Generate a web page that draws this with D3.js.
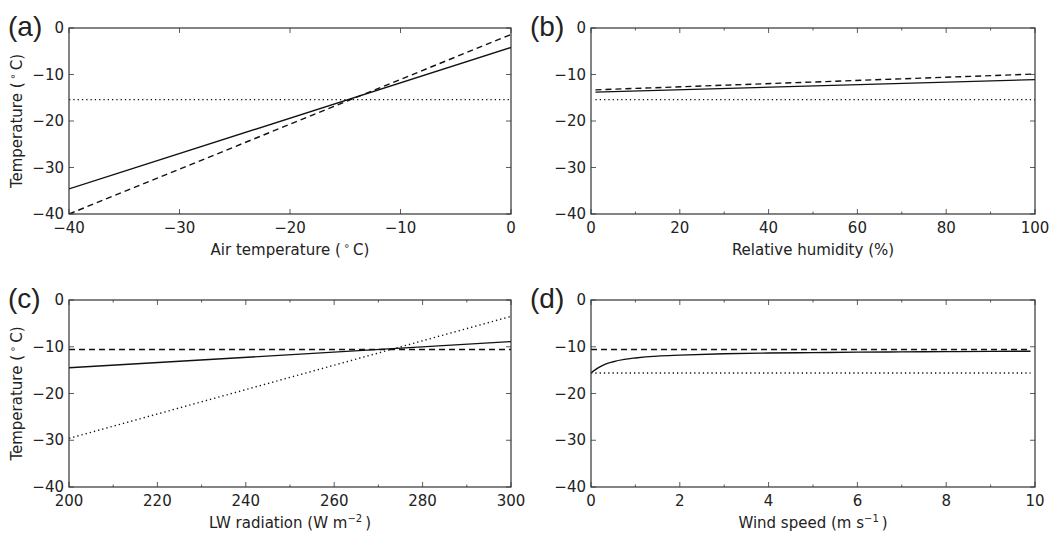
<!DOCTYPE html>
<html>
<head>
<meta charset="utf-8">
<script src="https://cdn.jsdelivr.net/npm/d3@7"></script>
<style>
  body { margin: 0; background: #fff; }
  svg { display: block; }
  text { fill: #222; }
</style>
</head>
<body>
<script>
// panel (a): air temperature
const airTemp = [-40, 0];
const aSolid = [-34.6, -4.2];
const aDashed = [-40, -1.4];
const aDotted = [-15.4, -15.4];
// panel (b): relative humidity
const humidity = [1, 100];
const bSolid = [-13.8, -11.1];
const bDashed = [-13.3, -9.9];
const bDotted = [-15.4, -15.4];
// panel (c): LW radiation
const lwRad = [200, 300];
const cSolid = [-14.5, -8.9];
const cDashed = [-10.6, -10.6];
const cDotted = [-29.6, -3.5];
// panel (d): wind speed
const wind = [0, 0.1, 0.2, 0.3, 0.5, 0.75, 1, 1.5, 2, 3, 4, 5, 6, 7, 8, 9, 9.9];
const dSolid = [-15.6, -14.9, -14.3, -13.8, -13.2, -12.7, -12.4, -12.0, -11.8, -11.5, -11.35, -11.25, -11.15, -11.1, -11.05, -11.0, -10.95];
const dDashedX = [0, 9.9];
const dDashed = [-10.6, -10.6];
const dDottedX = [0, 9.9];
const dDotted = [-15.6, -15.6];

const yTicks = [0, -10, -20, -30, -40];

const W = 1057, H = 536;
const svg = d3.select('body').append('svg').attr('width', W).attr('height', H);

function drawPanel(opts) {
    const {left, top, width, height, xDomain, xMajor, xMinor, label, xLabel, yLabel, series} = opts;
    const x = d3.scaleLinear().domain(xDomain).range([0, width]);
    const y = d3.scaleLinear().domain([-40, 0]).range([height, 0]);
    const g = svg.append('g').attr('transform', `translate(${left},${top})`);

    const clipId = 'clip-' + label;
    g.append('clipPath').attr('id', clipId)
        .append('rect').attr('width', width).attr('height', height);

    const lines = g.append('g').attr('clip-path', `url(#${clipId})`);
    series.forEach(s => {
        const pts = s.x.map((v, i) => [v, s.y[i]]);
        const line = d3.line().x(d => x(d[0])).y(d => y(d[1]));
        if (s.smooth) line.curve(d3.curveMonotoneX);
        lines.append('path')
            .datum(pts)
            .attr('d', line)
            .attr('fill', 'none')
            .attr('stroke', '#111')
            .attr('stroke-width', 1.4)
            .attr('stroke-dasharray', s.dash === 'dash' ? '6 4' : s.dash === 'dot' ? '1.3 3' : null);
    });

    // ticks pointing inward on all four sides
    const tickG = g.append('g').attr('stroke', '#333').attr('stroke-width', 0.8);
    xMajor.forEach(v => {
        tickG.append('line').attr('x1', x(v)).attr('x2', x(v)).attr('y1', height).attr('y2', height - 5);
        tickG.append('line').attr('x1', x(v)).attr('x2', x(v)).attr('y1', 0).attr('y2', 5);
    });
    xMinor.forEach(v => {
        tickG.append('line').attr('x1', x(v)).attr('x2', x(v)).attr('y1', height).attr('y2', height - 2.5);
        tickG.append('line').attr('x1', x(v)).attr('x2', x(v)).attr('y1', 0).attr('y2', 2.5);
    });
    yTicks.forEach(v => {
        tickG.append('line').attr('x1', 0).attr('x2', 5).attr('y1', y(v)).attr('y2', y(v));
        tickG.append('line').attr('x1', width).attr('x2', width - 5).attr('y1', y(v)).attr('y2', y(v));
    });

    g.append('rect').attr('width', width).attr('height', height)
        .attr('fill', 'none').attr('stroke', '#333').attr('stroke-width', 1.2);

    const fmt = v => String(v).replace('-', '\u2212');
    g.selectAll('.xt').data(xMajor).join('text')
        .attr('x', d => x(d)).attr('y', height + 19)
        .attr('text-anchor', 'middle')
        .style('font', '15px "DejaVu Sans"')
        .text(fmt);
    g.selectAll('.yt').data(yTicks).join('text')
        .attr('x', -5).attr('y', d => y(d) + 5)
        .attr('text-anchor', 'end')
        .style('font', '15px "DejaVu Sans"')
        .text(fmt);

    const xl = g.append('text')
        .attr('x', width / 2).attr('y', height + 41)
        .attr('text-anchor', 'middle')
        .style('font', '15px "DejaVu Sans"');
    xLabel(xl);

    if (yLabel) {
        const yl = g.append('text')
            .attr('transform', `translate(-47,${height / 2}) rotate(-90)`)
            .attr('text-anchor', 'middle')
            .style('font', '15px "DejaVu Sans"');
        yLabel(yl);
    }

    svg.append('text')
        .attr('x', left - 61).attr('y', top + 8)
        .style('font', '28px "Liberation Sans"')
        .text('(' + label + ')');
}

// label helpers for degree sign and superscripts
function degLabel(txt) {
    return t => {
        t.append('tspan').text(txt + ' (\u2009');
        t.append('tspan').attr('dy', -6).style('font-size', '10px').text('\u2218');
        t.append('tspan').attr('dy', 6).text('\u2009C)');
    };
}
function supLabel(txt, unit, sup) {
    return t => {
        t.append('tspan').text(txt + ' (' + unit);
        t.append('tspan').attr('dy', -6).style('font-size', '10px').text(sup);
        t.append('tspan').attr('dy', 6).text('\u2009)');
    };
}

drawPanel({
    left: 69, top: 28, width: 442, height: 186,
    xDomain: [-40, 0], xMajor: [-40, -30, -20, -10, 0], xMinor: [],
    label: 'a', xLabel: degLabel('Air temperature'), yLabel: degLabel('Temperature'),
    series: [
        {x: airTemp, y: aSolid, dash: null},
        {x: airTemp, y: aDashed, dash: 'dash'},
        {x: airTemp, y: aDotted, dash: 'dot'}
    ]
});
drawPanel({
    left: 591, top: 28, width: 444, height: 186,
    xDomain: [0, 100], xMajor: [0, 20, 40, 60, 80, 100], xMinor: [10, 30, 50, 70, 90],
    label: 'b', xLabel: t => t.text('Relative humidity (%)'), yLabel: null,
    series: [
        {x: humidity, y: bSolid, dash: null},
        {x: humidity, y: bDashed, dash: 'dash'},
        {x: humidity, y: bDotted, dash: 'dot'}
    ]
});
drawPanel({
    left: 69, top: 300, width: 442, height: 187,
    xDomain: [200, 300], xMajor: [200, 220, 240, 260, 280, 300], xMinor: [210, 230, 250, 270, 290],
    label: 'c', xLabel: supLabel('LW radiation', 'W m', '\u22122'), yLabel: degLabel('Temperature'),
    series: [
        {x: lwRad, y: cSolid, dash: null},
        {x: lwRad, y: cDashed, dash: 'dash'},
        {x: lwRad, y: cDotted, dash: 'dot'}
    ]
});
drawPanel({
    left: 591, top: 300, width: 444, height: 187,
    xDomain: [0, 10], xMajor: [0, 2, 4, 6, 8, 10], xMinor: [1, 3, 5, 7, 9],
    label: 'd', xLabel: supLabel('Wind speed', 'm s', '\u22121'), yLabel: null,
    series: [
        {x: wind, y: dSolid, dash: null, smooth: true},
        {x: dDashedX, y: dDashed, dash: 'dash'},
        {x: dDottedX, y: dDotted, dash: 'dot'}
    ]
});
</script>
</body>
</html>
